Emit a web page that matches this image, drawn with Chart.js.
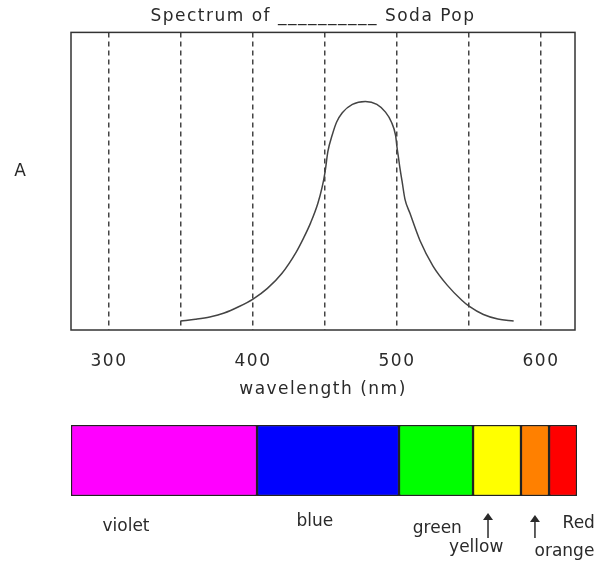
<!DOCTYPE html>
<html>
<head>
<meta charset="utf-8">
<script src="https://cdn.jsdelivr.net/npm/chart.js@4.4.1/dist/chart.umd.min.js"></script>
<style>
  html, body { margin: 0; padding: 0; background: #fff; }
  #wrap { position: relative; width: 600px; height: 563px; overflow: hidden; }
  #c1 { position: absolute; left: 0; top: 0; }
  #c2 { position: absolute; left: 0; top: 410px; }
</style>
</head>
<body>
<div id="wrap">
  <div id="c1" style="width:600px;height:410px"><canvas id="spec"></canvas></div>
  <div id="c2" style="width:600px;height:153px"><canvas id="bands"></canvas></div>
</div>
<script>
// ---- data ----
const chartTitle = 'Spectrum of __________ Soda Pop';
const xAxisTitle = 'wavelength (nm)';
const yAxisLabel = 'A';
const wavelengths = [350, 360, 370, 380, 390, 400, 410, 420, 430, 435, 440, 445, 448, 450, 452, 455, 458, 462, 469, 478, 486, 492, 496, 499, 500, 501, 502, 503.5, 505.5, 509, 516, 525, 535, 545, 550, 560, 570, 581];
const absorbance  = [0.030, 0.036, 0.044, 0.057, 0.078, 0.104, 0.140, 0.190, 0.262, 0.308, 0.360, 0.425, 0.480, 0.530, 0.600, 0.655, 0.698, 0.730, 0.758, 0.768, 0.758, 0.732, 0.700, 0.654, 0.614, 0.580, 0.545, 0.500, 0.440, 0.392, 0.300, 0.215, 0.150, 0.100, 0.080, 0.052, 0.037, 0.030];
const gridWavelengths = [300, 350, 400, 450, 500, 550, 600];
const tickLabels = [300, 400, 500, 600];
const xMin = 273.6, xMax = 623.6;

const bandNames  = ['violet', 'blue', 'green', 'yellow', 'orange', 'Red'];
const bandEdges  = [273.6, 402.8, 501.4, 552.8, 586.1, 605.6, 625.0];
const bandColors = ['#ff00ff', '#0000ff', '#00ff00', '#ffff00', '#ff8000', '#ff0000'];

const FONT = "'DejaVu Sans', sans-serif";
const INK = '#2a2a2a';

// ---- spectrum chart ----
const framePlugin = {
  id: 'frame',
  beforeDraw(chart) { chart.ctx.letterSpacing = '1.5px'; },
  beforeDatasetsDraw(chart) { chart.ctx.letterSpacing = '0px'; },
  afterDatasetsDraw(chart) {
    const {ctx, chartArea: a} = chart;
    ctx.save();
    ctx.strokeStyle = '#333';
    ctx.lineWidth = 1.5;
    ctx.strokeRect(a.left, a.top, a.right - a.left, a.bottom - a.top);
    ctx.fillStyle = INK;
    ctx.font = '17px ' + FONT;
    ctx.textAlign = 'center';
    ctx.textBaseline = 'middle';
    ctx.fillText(yAxisLabel, a.left - 51, a.top + 139);
    ctx.restore();
  }
};

new Chart(document.getElementById('spec'), {
  type: 'line',
  data: {
    datasets: [{
      data: wavelengths.map((w, i) => ({x: w, y: absorbance[i]})),
      borderColor: '#444',
      borderWidth: 1.5,
      pointRadius: 0,
      cubicInterpolationMode: 'monotone',
      fill: false
    }]
  },
  options: {
    responsive: true,
    maintainAspectRatio: false,
    animation: false,
    events: [],
    layout: { padding: { left: 51, right: 25, top: 0, bottom: 10 } },
    plugins: {
      legend: { display: false },
      tooltip: { enabled: false },
      title: {
        display: true,
        text: chartTitle,
        color: INK,
        font: { family: FONT, size: 17, weight: 'normal' },
        padding: { top: 6, bottom: 6 }
      }
    },
    scales: {
      x: {
        type: 'linear',
        min: xMin,
        max: xMax,
        afterBuildTicks(scale) { scale.ticks = gridWavelengths.map(v => ({value: v})); },
        afterFit(scale) { scale.height = 70; },
        ticks: {
          autoSkip: false,
          maxRotation: 0,
          padding: 21,
          color: INK,
          font: { family: FONT, size: 17 },
          callback: (v) => tickLabels.includes(v) ? String(v) : ''
        },
        grid: { color: '#444', lineWidth: 1.5, drawTicks: false },
        border: { display: false, dash: [5, 4] },
        title: {
          display: true,
          text: xAxisTitle,
          color: INK,
          font: { family: FONT, size: 17 },
          padding: { top: 0, bottom: 0 }
        }
      },
      y: {
        min: 0,
        max: 1,
        ticks: { display: false },
        grid: { display: false },
        border: { display: false },
        afterFit(scale) { scale.width = 20; }
      }
    }
  },
  plugins: [framePlugin]
});

// ---- colour band chart ----
const bandLabelPlugin = {
  id: 'bandLabels',
  afterDraw(chart) {
    const {ctx} = chart;
    const xs = chart.scales.x;
    const px = (w) => xs.getPixelForValue(w);
    ctx.save();
    ctx.fillStyle = INK;
    ctx.font = '17px ' + FONT;
    ctx.textBaseline = 'middle';
    ctx.textAlign = 'center';
    ctx.fillText(bandNames[0], px(311.8), 117);
    ctx.fillText(bandNames[1], px(443), 112);
    ctx.fillText(bandNames[2], px(528), 119);
    ctx.fillText(bandNames[3], px(555), 138);
    ctx.textAlign = 'left';
    ctx.fillText(bandNames[5], px(615), 114);
    ctx.fillText(bandNames[4], px(595.5), 142);
    // arrows
    const arrow = (x, top, bottom) => {
      ctx.strokeStyle = INK;
      ctx.lineWidth = 1.5;
      ctx.beginPath();
      ctx.moveTo(x, bottom);
      ctx.lineTo(x, top + 5);
      ctx.stroke();
      ctx.beginPath();
      ctx.moveTo(x, top);
      ctx.lineTo(x - 5, top + 7);
      ctx.lineTo(x + 5, top + 7);
      ctx.closePath();
      ctx.fill();
    };
    arrow(px(563.2), 103, 128);
    arrow(px(595.8), 105, 128);
    ctx.restore();
  }
};

new Chart(document.getElementById('bands'), {
  type: 'bar',
  data: {
    labels: ['spectrum'],
    datasets: bandNames.map((n, i) => ({
      label: n,
      data: [[bandEdges[i], bandEdges[i + 1]]],
      backgroundColor: bandColors[i],
      borderColor: '#222',
      borderWidth: 1.5,
      borderSkipped: false,
      grouped: false,
      barPercentage: 1,
      categoryPercentage: 1
    }))
  },
  options: {
    indexAxis: 'y',
    responsive: true,
    maintainAspectRatio: false,
    animation: false,
    events: [],
    layout: { padding: { left: 71, right: 23, top: 15, bottom: 67 } },
    plugins: { legend: { display: false }, tooltip: { enabled: false }, title: { display: false } },
    scales: {
      x: { type: 'linear', min: bandEdges[0], max: bandEdges[bandEdges.length - 1], display: false },
      y: { display: false }
    }
  },
  plugins: [bandLabelPlugin]
});
</script>
</body>
</html>
